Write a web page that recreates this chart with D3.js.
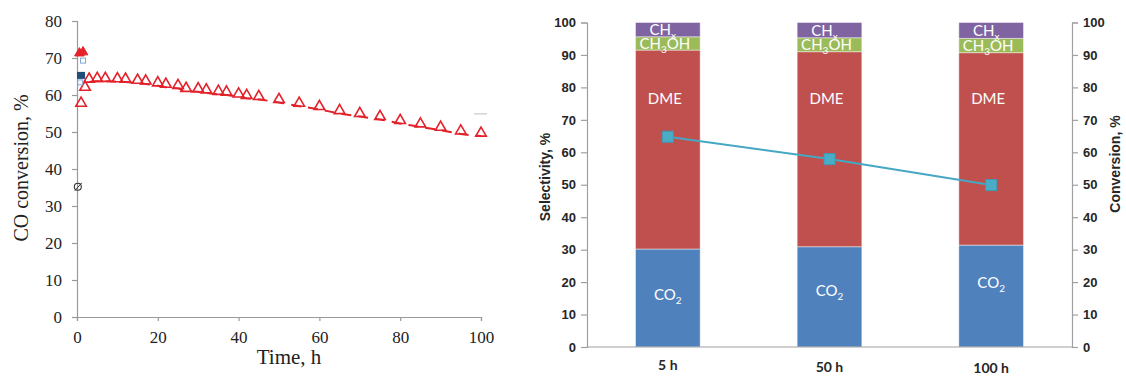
<!DOCTYPE html>
<html>
<head>
<meta charset="utf-8">
<script src="https://cdn.jsdelivr.net/npm/d3@7"></script>
<style>
  html, body { margin: 0; padding: 0; background: #fff; }
  svg { display: block; }
</style>
</head>
<body>
<svg id="chart" width="1126" height="376"></svg>
<script>
// ---------------- Left chart data: CO conversion vs time ----------------
const timeH = [1, 2, 3, 5, 7, 10, 12, 15, 17, 20, 22, 25, 27, 30, 32, 35, 37, 40, 42, 45,
               50, 55, 60, 65, 70, 75, 80, 85, 90, 95, 100];
const coConversion = [57.8, 62.1, 64.3, 64.5, 64.5, 64.4, 64.3, 64.0, 63.8, 63.3, 62.9, 62.6, 61.8, 61.7, 61.4, 61.0, 60.8, 60.3, 59.9, 59.6,
                      58.8, 57.8, 56.9, 55.8, 55.0, 54.2, 53.1, 52.2, 51.3, 50.3, 49.7];
const trendStart = 3;            // dashed trend drawn from this time on
const leftXTicks = [0, 20, 40, 60, 80, 100];
const leftYTicks = [0, 10, 20, 30, 40, 50, 60, 70, 80];
// stray marks near the origin in the source figure
const redFilled = [{t: 0.6, v: 71.3}, {t: 1.5, v: 71.6}];
const darkSquare = [{t: 1.0, v: 65.3}];
const lightSquares = [{t: 1.5, v: 69.3}, {t: 0.8, v: 63.4}];
const slashedCircle = [{t: 0.2, v: 35.2}];
const strayDash = [{t: 98.3, v: 54.9}, {t: 101.5, v: 54.9}];

// ---------------- Right chart data: selectivity stacks + conversion ----------------
const categories = ["5 h", "50 h", "100 h"];
const co2 = [30.2, 30.9, 31.4];
const dme = [61.3, 60.1, 59.3];
const ch3oh = [4.1, 4.3, 4.4];
const chx = [4.4, 4.7, 4.9];
const conversion = [64.8, 57.9, 49.9];
const rightTicks = [0, 10, 20, 30, 40, 50, 60, 70, 80, 90, 100];
const dmeLabelLevel = [76.5, 76.5, 76.5];
const co2LabelLevel = [16.0, 17.4, 20.0];

const svg = d3.select("#chart");

// ======================= LEFT CHART =======================
const lx = d3.scaleLinear().domain([0, 100]).range([77, 481]);
const ly = d3.scaleLinear().domain([0, 80]).range([317, 21]);
const serif = "'Liberation Serif', 'Times New Roman', serif";

const lYAxis = svg.append("g").attr("transform", `translate(${lx(0)},0)`)
  .call(d3.axisLeft(ly).tickValues(leftYTicks).tickSize(5).tickPadding(10));
const lXAxis = svg.append("g").attr("transform", `translate(0,${ly(0)})`)
  .call(d3.axisBottom(lx).tickValues(leftXTicks).tickSize(4).tickPadding(10));
[lYAxis, lXAxis].forEach(g => {
  g.selectAll("path, line").attr("stroke", "#9a9a9a").attr("stroke-width", 1.2);
  g.selectAll("text").attr("font-family", serif).attr("font-size", 17).attr("fill", "#222");
});

svg.append("text").attr("x", 289).attr("y", 364).attr("text-anchor", "middle")
  .attr("font-family", serif).attr("font-size", 21).attr("fill", "#222").text("Time, h");
svg.append("text").attr("transform", "translate(28,168) rotate(-90)").attr("text-anchor", "middle")
  .attr("font-family", serif).attr("font-size", 20).attr("fill", "#222").text("CO conversion, %");

const lineData = timeH.map((t, i) => ({t, v: coConversion[i]})).filter(d => d.t >= trendStart);
svg.append("path").datum(lineData)
  .attr("d", d3.line().x(d => lx(d.t)).y(d => ly(d.v)).curve(d3.curveMonotoneX))
  .attr("transform", "translate(0,3)")
  .attr("fill", "none").attr("stroke", "#e3222b").attr("stroke-width", 2)
  .attr("stroke-dasharray", "10,7");

const tri = d3.symbol().type(d3.symbolTriangle).size(48);
svg.append("g").selectAll("path").data(timeH.map((t, i) => ({t, v: coConversion[i]})))
  .join("path").attr("d", tri)
  .attr("transform", d => `translate(${lx(d.t)},${ly(d.v)})`)
  .attr("fill", "none").attr("stroke", "#e3222b").attr("stroke-width", 1.6);

svg.append("g").selectAll("path").data(redFilled).join("path")
  .attr("d", d3.symbol().type(d3.symbolTriangle).size(40))
  .attr("transform", d => `translate(${lx(d.t)},${ly(d.v)})`)
  .attr("fill", "#e3222b").attr("stroke", "#e3222b");
svg.append("g").selectAll("rect").data(lightSquares).join("rect")
  .attr("x", d => lx(d.t) - 2.5).attr("y", d => ly(d.v) - 2.5).attr("width", 5).attr("height", 5)
  .attr("fill", "none").attr("stroke", "#7fa7d6").attr("stroke-width", 1);
svg.append("g").selectAll("rect").data(darkSquare).join("rect")
  .attr("x", d => lx(d.t) - 4).attr("y", d => ly(d.v) - 3.5).attr("width", 8).attr("height", 7)
  .attr("fill", "#1f4e79");
const sc = svg.append("g").selectAll("g").data(slashedCircle).join("g")
  .attr("transform", d => `translate(${lx(d.t)},${ly(d.v)})`);
sc.append("circle").attr("r", 3.5).attr("fill", "none").attr("stroke", "#333").attr("stroke-width", 1.1);
sc.append("line").attr("x1", -3).attr("y1", 4).attr("x2", 4).attr("y2", -4).attr("stroke", "#333").attr("stroke-width", 1);
svg.append("path").datum(strayDash)
  .attr("d", d3.line().x(d => lx(d.t)).y(d => ly(d.v)))
  .attr("stroke", "#c8c8c8").attr("stroke-width", 1.2);

// ======================= RIGHT CHART =======================
const rx = d3.scaleBand().domain(categories).range([587, 1072]).paddingInner(0.6).paddingOuter(0.3);
const ry = d3.scaleLinear().domain([0, 100]).range([347, 22.5]);
const ry2 = d3.scaleLinear().domain([0, 100]).range([347, 22.5]);
const sans = "'Liberation Sans', Arial, sans-serif";
const lato = "Lato, 'Open Sans', sans-serif";

const colors = {co2: "#4f81bd", dme: "#c0504d", ch3oh: "#9bbb59", chx: "#8064a2"};
const keys = ["co2", "dme", "ch3oh", "chx"];
const rows = categories.map((c, i) => ({cat: c, co2: co2[i], dme: dme[i], ch3oh: ch3oh[i], chx: chx[i]}));
const stacked = d3.stack().keys(keys)(rows);

svg.append("g").selectAll("g").data(stacked).join("g")
  .attr("fill", d => colors[d.key])
  .selectAll("rect").data(d => d).join("rect")
  .attr("x", d => rx(d.data.cat)).attr("width", rx.bandwidth())
  .attr("y", d => ry(d[1])).attr("height", d => ry(d[0]) - ry(d[1]))
  .attr("stroke", "#ffffff").attr("stroke-opacity", 0.45).attr("stroke-width", 1);

// axes
const rLeft = svg.append("g").attr("transform", "translate(587,0)")
  .call(d3.axisLeft(ry).tickValues(rightTicks).tickSize(6).tickPadding(5));
const rRight = svg.append("g").attr("transform", "translate(1072,0)")
  .call(d3.axisRight(ry2).tickValues(rightTicks).tickSize(6).tickPadding(5));
[rLeft, rRight].forEach(g => {
  g.selectAll("path, line").attr("stroke", "#a0a0a0").attr("stroke-width", 1.2);
  g.selectAll("text").attr("font-family", sans).attr("font-weight", "bold").attr("font-size", 13).attr("fill", "#262626");
});
svg.append("line").attr("x1", 587).attr("x2", 1072).attr("y1", ry(0)).attr("y2", ry(0))
  .attr("stroke", "#a0a0a0").attr("stroke-width", 1.2);

svg.append("g").selectAll("text").data(categories).join("text")
  .attr("x", d => rx(d) + rx.bandwidth() / 2).attr("y", (d, i) => 370 + i * 1.5)
  .attr("text-anchor", "middle").attr("font-family", lato).attr("font-weight", "bold")
  .attr("font-size", 14).attr("fill", "#262626").text(d => d);

svg.append("text").attr("transform", "translate(550,177) rotate(-90)").attr("text-anchor", "middle")
  .attr("font-family", sans).attr("font-weight", "bold").attr("font-size", 14).attr("fill", "#262626")
  .text("Selectivity, %");
svg.append("text").attr("transform", "translate(1120,164) rotate(-90)").attr("text-anchor", "middle")
  .attr("font-family", sans).attr("font-weight", "bold").attr("font-size", 14).attr("fill", "#262626")
  .text("Conversion, %");

// segment labels
function chemLabel(g, x, y, parts) {
  const t = g.append("text").attr("x", x).attr("y", y).attr("text-anchor", "middle")
    .attr("font-family", lato).attr("font-size", 15).attr("fill", "#ffffff");
  parts.forEach(p => {
    if (p.sub) t.append("tspan").attr("font-size", 10).attr("dy", 4).text(p.s);
    else if (p.after) t.append("tspan").attr("dy", -4).text(p.s);
    else t.append("tspan").text(p.s);
  });
}
const labG = svg.append("g");
categories.forEach((c, i) => {
  const cx = rx(c) + rx.bandwidth() / 2;
  const capOff = 5.4;
  const r = rows[i];
  chemLabel(labG, cx - 5, ry(r.co2 + r.dme + r.ch3oh + r.chx / 2) + capOff, [{s: "CH"}, {s: "x", sub: true}]);
  chemLabel(labG, cx - 3, ry(r.co2 + r.dme + r.ch3oh / 2) + capOff, [{s: "CH"}, {s: "3", sub: true}, {s: "OH", after: true}]);
  chemLabel(labG, cx - 3, ry(dmeLabelLevel[i]) + capOff, [{s: "DME"}]);
  chemLabel(labG, cx, ry(co2LabelLevel[i]) + capOff, [{s: "CO"}, {s: "2", sub: true}]);
});

// conversion line
const convData = categories.map((c, i) => ({cat: c, v: conversion[i]}));
svg.append("path").datum(convData)
  .attr("d", d3.line().x(d => rx(d.cat) + rx.bandwidth() / 2).y(d => ry2(d.v)))
  .attr("fill", "none").attr("stroke", "#45a7c4").attr("stroke-width", 2);
svg.append("g").selectAll("rect").data(convData).join("rect")
  .attr("x", d => rx(d.cat) + rx.bandwidth() / 2 - 5.5).attr("y", d => ry2(d.v) - 5.5)
  .attr("width", 11).attr("height", 11)
  .attr("fill", "#4bacc6").attr("stroke", "#3b9bb6").attr("stroke-width", 1);
</script>
</body>
</html>
